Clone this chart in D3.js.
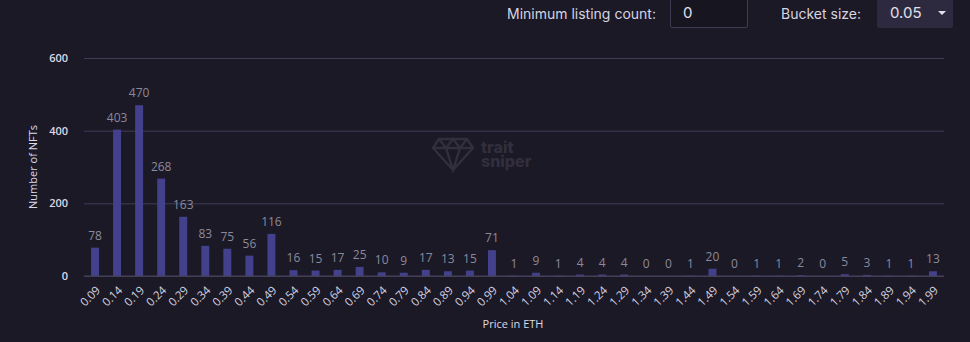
<!DOCTYPE html>
<html>
<head>
<meta charset="utf-8">
<script src="https://cdn.jsdelivr.net/npm/d3@7"></script>
<style>
  html, body { margin: 0; padding: 0; background: #1b1925; }
  body { width: 970px; height: 342px; overflow: hidden; position: relative; font-family: Inter, "Open Sans", sans-serif; }
  .ctl { position: absolute; top: 0; color: #d6d4e0; font-size: 14px; line-height: 27px; }
  .box { position: absolute; top: -2px; height: 30px; border: 1px solid #3e3b50; border-radius: 2px; box-sizing: border-box; color: #e2e0ea; font-size: 15px; line-height: 28px; padding-left: 12px; }
  .caret { position: absolute; left: 60px; top: 12px; width: 0; height: 0; border-left: 4px solid transparent; border-right: 4px solid transparent; border-top: 4px solid #e2e0ea; }
  svg { position: absolute; left: 0; top: 0; }
</style>
</head>
<body>
<div class="ctl" style="left:507px">Minimum listing count:</div>
<div class="box" style="left:670px;width:78px;background:#17151f">0</div>
<div class="ctl" style="left:781px">Bucket size:</div>
<div class="box" style="left:877px;width:76px;background:#2d2a40;border-color:#2d2a40">0.05<span class="caret"></span></div>
<svg id="chart" width="970" height="342"></svg>
<script>
const prices = ["0.09","0.14","0.19","0.24","0.29","0.34","0.39","0.44","0.49","0.54","0.59","0.64","0.69","0.74","0.79","0.84","0.89","0.94","0.99","1.04","1.09","1.14","1.19","1.24","1.29","1.34","1.39","1.44","1.49","1.54","1.59","1.64","1.69","1.74","1.79","1.84","1.89","1.94","1.99"];
const counts = [78,403,470,268,163,83,75,56,116,16,15,17,25,10,9,17,13,15,71,1,9,1,4,4,4,0,0,1,20,0,1,1,2,0,5,3,1,1,13];
const yTicks = [0, 200, 400, 600];

const data = prices.map((p, i) => ({ price: p, count: counts[i] }));

const svg = d3.select('#chart');
const margin = { top: 58, right: 26, bottom: 66, left: 84 };
const width = 970, height = 342;
const innerWidth = width - margin.left - margin.right;
const innerHeight = height - margin.top - margin.bottom;

const g = svg.append('g')
    .attr('transform', `translate(${margin.left},${margin.top})`);

// watermark
const wm = g.append('g').attr('transform', `translate(${433 - margin.left},${139 - margin.top})`);
wm.append('path')
    .attr('d', 'M6,0 L34,0 L40,9 L20,31 L0,9 Z M0,9 L40,9 M6,0 L13,9 L20,0 L27,9 L34,0 M13,9 L20,31 L27,9')
    .attr('fill', 'none').attr('stroke', '#312e3d').attr('stroke-width', 2.4);
wm.append('text').attr('x', 48).attr('y', 14).text('trait')
    .attr('fill', '#312e3d').attr('font-size', 16).attr('font-weight', 800).attr('font-family', 'Inter, sans-serif');
wm.append('text').attr('x', 48).attr('y', 28).text('sniper')
    .attr('fill', '#312e3d').attr('font-size', 16).attr('font-weight', 800).attr('font-family', 'Inter, sans-serif');

const xScale = d3.scaleBand()
    .domain(prices)
    .range([0, innerWidth])
    .paddingInner(0.64)
    .paddingOuter(0.32);

const yScale = d3.scaleLinear()
    .domain([0, 600])
    .range([innerHeight, 0]);

const yAxis = d3.axisLeft(yScale)
    .tickValues(yTicks)
    .tickSize(-innerWidth)
    .tickPadding(16);

const yAxisG = g.append('g').call(yAxis);
yAxisG.select('.domain').remove();
yAxisG.selectAll('line').attr('stroke', '#3f3c58').attr('stroke-width', 1);
yAxisG.selectAll('text').attr('fill', '#dcdae6').attr('font-size', 11).attr('font-weight', 600)
    .attr('font-family', '"Open Sans", sans-serif');

yAxisG.append('text')
    .attr('x', -innerHeight / 2)
    .attr('y', -47)
    .attr('transform', 'rotate(-90)')
    .attr('text-anchor', 'middle')
    .attr('fill', '#dcdae6')
    .attr('font-size', 11)
    .attr('font-family', '"Open Sans", sans-serif')
    .text('Number of NFTs');

const xAxis = d3.axisBottom(xScale).tickSize(0).tickPadding(0);
const xAxisG = g.append('g').call(xAxis)
    .attr('transform', `translate(0,${innerHeight})`);
xAxisG.select('.domain').remove();
xAxisG.selectAll('.tick text')
    .attr('x', 0)
    .attr('y', 0)
    .attr('dy', 0)
    .attr('fill', '#d4d2e0')
    .attr('font-size', 11.5)
    .attr('font-family', '"Open Sans", sans-serif')
    .attr('text-anchor', 'end')
    .attr('transform', 'translate(6,15) rotate(-45)');

xAxisG.append('text')
    .attr('x', 513 - margin.left)
    .attr('y', 52)
    .attr('text-anchor', 'middle')
    .attr('fill', '#dcdae6')
    .attr('font-size', 11)
    .attr('font-family', '"Open Sans", sans-serif')
    .text('Price in ETH');

g.selectAll('rect.bar').data(data)
    .enter().append('rect')
    .attr('class', 'bar')
    .attr('x', d => xScale(d.price))
    .attr('width', xScale.bandwidth())
    .attr('y', d => yScale(d.count))
    .attr('height', d => innerHeight - yScale(d.count))
    .attr('fill', '#44418c');

g.selectAll('text.val').data(data)
    .enter().append('text')
    .attr('class', 'val')
    .attr('x', d => xScale(d.price) + xScale.bandwidth() / 2)
    .attr('y', d => yScale(d.count) - 8)
    .attr('text-anchor', 'middle')
    .attr('fill', '#8c899c')
    .attr('font-size', 12)
    .attr('font-family', '"Open Sans", sans-serif')
    .text(d => d.count);

// baseline over the bars
g.append('line')
    .attr('x1', 0).attr('x2', innerWidth)
    .attr('y1', innerHeight).attr('y2', innerHeight)
    .attr('stroke', '#46435c');
</script>
</body>
</html>
